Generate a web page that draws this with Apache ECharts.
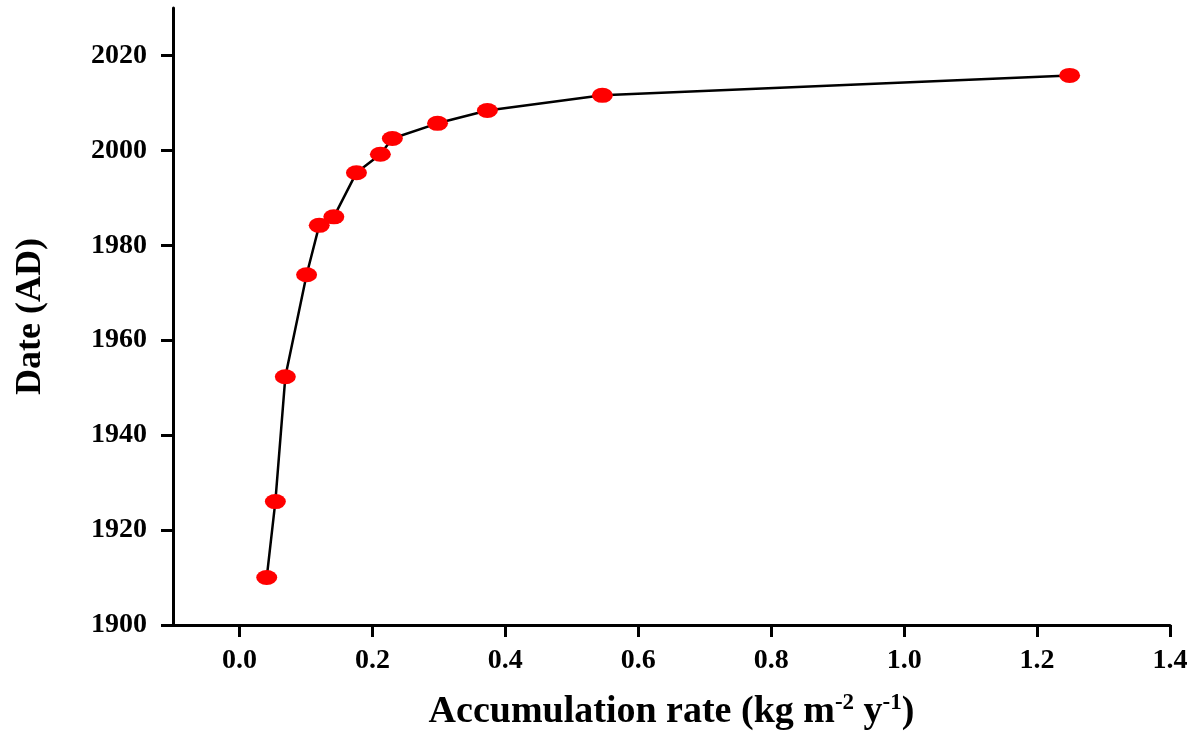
<!DOCTYPE html>
<html>
<head>
    <meta charset="utf-8">
    <title>Accumulation rate</title>
    <script src="https://cdn.jsdelivr.net/npm/echarts@6/dist/echarts.min.js"></script>
    <style>
        html, body { margin: 0; padding: 0; background: #fff; }
        #main { width: 1204px; height: 732px; }
    </style>
</head>
<body>
    <div id="main"></div>
<script type="text/javascript">
    // accumulation rate (kg m-2 y-1) and date (AD)
    var rate = [0.041, 0.054, 0.069, 0.101, 0.120, 0.142, 0.176, 0.212, 0.230, 0.298, 0.373, 0.546, 1.249];
    var year = [1910, 1926, 1952.3, 1973.8, 1984.2, 1986.0, 1995.3, 1999.2, 2002.5, 2005.7, 2008.4, 2011.6, 2015.8];
    var xTicks = [0, 0.2, 0.4, 0.6, 0.8, 1.0, 1.2, 1.4];
    var yTicks = [1900, 1920, 1940, 1960, 1980, 2000, 2020];

    var data = rate.map(function (r, i) { return [r, year[i]]; });
    var font = '"Liberation Serif", "Times New Roman", serif';

    var option = {
        backgroundColor: '#fff',
        animation: false,
        grid: { left: 173, right: 34, top: 8, bottom: 107, outerBoundsMode: 'none', containLabel: false },
        xAxis: {
            type: 'value',
            min: -0.1,
            max: 1.4,
            name: 'Accumulation rate (kg m{sup|-2} y{sup|-1})',
            nameLocation: 'middle',
            nameGap: 67,
            nameTextStyle: {
                color: '#000', fontFamily: font, fontWeight: 'bold', fontSize: 38, lineHeight: 40,
                rich: {
                    sup: { fontFamily: font, fontWeight: 'bold', fontSize: 23, color: '#000', lineHeight: 40, padding: [0, 0, 18, 0] }
                }
            },
            splitLine: { show: false },
            axisLine: { onZero: false, lineStyle: { color: '#000', width: 3 } },
            axisTick: { length: 12, lineStyle: { color: '#000', width: 3 }, customValues: xTicks },
            axisLabel: {
                color: '#000', fontFamily: font, fontWeight: 'bold', fontSize: 28, margin: 22,
                customValues: xTicks,
                formatter: function (v) { return v.toFixed(1); }
            }
        },
        yAxis: {
            type: 'value',
            min: 1900,
            max: 2030,
            name: 'Date (AD)',
            nameLocation: 'middle',
            nameGap: 124,
            nameTextStyle: { color: '#000', fontFamily: font, fontWeight: 'bold', fontSize: 36 },
            splitLine: { show: false },
            axisLine: { onZero: false, lineStyle: { color: '#000', width: 3 } },
            axisTick: { length: 12, lineStyle: { color: '#000', width: 3 }, customValues: yTicks },
            axisLabel: {
                color: '#000', fontFamily: font, fontWeight: 'bold', fontSize: 28, margin: 26,
                customValues: yTicks,
                formatter: function (v) { return String(v); }
            }
        },
        series: [{
            type: 'line',
            data: data,
            symbol: 'circle',
            symbolSize: [21, 15],
            itemStyle: { color: '#ff0000' },
            lineStyle: { color: '#000', width: 2.5 }
        }]
    };

    var myChart = echarts.init(document.getElementById('main'));
    myChart.setOption(option);
</script>
</body>
</html>
